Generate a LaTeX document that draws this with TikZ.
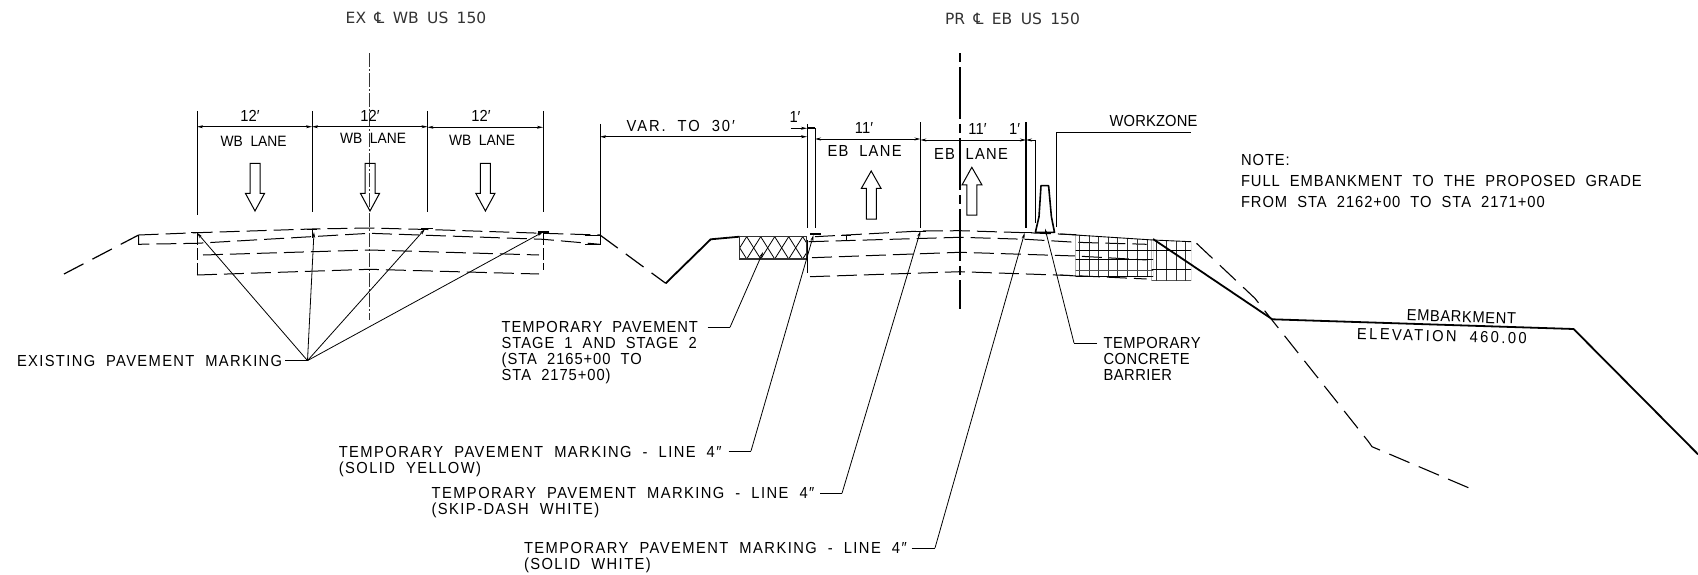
\documentclass[tikz,border=0pt]{standalone}
\usepackage{fontspec}
\usetikzlibrary{arrows.meta}
\setmainfont{Liberation Sans}[FakeStretch=0.92,WordSpace=2.0]
\newfontfamily\hdfont{DejaVu Sans}[WordSpace=1.7]
\tikzset{
  x=1pt,y=-1pt,
  thin line/.style={line width=0.8pt,black},
  heavy/.style={line width=1.8pt,black},
  dimline/.style={line width=0.8pt,black,{Stealth[length=6pt,width=3pt]}-{Stealth[length=6pt,width=3pt]}},
  leader/.style={line width=0.8pt,black,-{Stealth[length=6pt,width=3pt]}},
  prof/.style={line width=1pt,black,dash pattern=on 20pt off 7pt},
  bigdash/.style={line width=1.2pt,black,dash pattern=on 22pt off 10pt},
  lbl/.style={inner sep=0pt,outer sep=0pt,align=left,anchor=north west,font=\fontsize{16}{16}\selectfont\addfontfeatures{LetterSpace=#1}},
  lbl/.default=9,
  lblc/.style={inner sep=0pt,outer sep=0pt,anchor=center,font=\fontsize{16}{16}\selectfont\addfontfeatures{LetterSpace=#1}},
  lblc/.default=2.5,
  hdr/.style={inner sep=0pt,outer sep=0pt,anchor=center,text=black!80,font=\hdfont\fontsize{15.5}{16}\selectfont},
  lane/.style={inner sep=0pt,outer sep=0pt,anchor=center,font=\fontsize{15}{15}\selectfont},
  dimnum/.style={inner sep=0pt,outer sep=0pt,anchor=center,font=\fontsize{16}{16}\selectfont},
  flowarrow/.style={line width=1pt,black,line join=miter}
}
\begin{document}
\begin{tikzpicture}
\useasboundingbox (0,0) rectangle (1698,575);

% === centre lines
\draw[line width=0.6pt,black!80,dash pattern=on 14pt off 2pt on 2pt off 2pt] (369.6,53.3) -- (369.6,319.5);
\draw[line width=1.8pt,black,dash pattern=on 9pt off 5pt on 52pt off 5pt] (960,53.3) -- (960,308.6);
\node[hdr] (exlabel) at (416,18.3) {EX ℄ WB US 150};
\node[hdr] (prlabel) at (1012.5,19.3) {PR ℄ EB US 150};

% === WB extension lines
\draw[thin line] (197,111) -- (197,215);
\draw[thin line] (312,111) -- (312,211.7);
\draw[thin line] (427.5,111) -- (427.5,211.7);
\draw[thin line] (543,111) -- (543,211.7);
\draw[dimline] (197,126.7) -- (312,126.7);
\draw[dimline] (312,126.7) -- (427.5,126.7);
\draw[dimline] (427.5,127.3) -- (543,127.3);
\node[dimnum] (d1) at (250,115.7) {12′};
\node[dimnum] (d2) at (370,115.7) {12′};
\node[dimnum] (d3) at (481,116.3) {12′};
\node[lane] (w1) at (253.6,141.3) {WB LANE};
\node[lane] (w2) at (373,138) {WB LANE};
\node[lane] (w3) at (482,140.3) {WB LANE};

% WB flow arrows
\foreach \c in {255,370,485.4}{
  \draw[flowarrow] (\c-5,163.3) -- (\c+5,163.3) -- (\c+5,193.3) -- (\c+9.6,193.3) -- (\c,211) -- (\c-9.6,193.3) -- (\c-5,193.3) -- cycle;
}

% === WB pavement
\draw[bigdash] (64,274) -- (138.6,235);
\draw[prof] (138.6,235) -- (197,232.7) -- (312,229) -- (369.6,228) -- (427.5,229.5) -- (543,233.3) -- (600,235);
\draw[prof] (138.6,235) -- (138.6,244.3) -- (197,243.3) -- (369.6,233.3) -- (543,239.3) -- (600,244.3);
\draw[prof] (203,255) -- (369.6,250) -- (539,255);
\draw[prof] (197,275) -- (369.6,269.3) -- (539,274);
\draw[line width=0.8pt,black,dash pattern=on 12pt off 3pt] (197,233) -- (197,275);
\draw[line width=0.8pt,black,dash pattern=on 12pt off 3pt] (543,233) -- (543,270);
\draw[line width=1pt] (191,232.7) -- (202,232.7);
\draw[line width=1pt] (307,229) -- (317,229) (312,229) -- (312,238);
\draw[line width=1pt] (421,228.7) -- (433,228.7);
\draw[line width=2pt] (537.5,231.7) -- (549,231.7);

% === Existing marking
\node[lbl=8.5,anchor=west] (exist) at (17,360.6) {EXISTING PAVEMENT MARKING};
\coordinate (apex) at (307.5,360.6);
\draw[thin line] (exist.east) ++(3,0) -- (apex);
\draw[leader] (apex) -- (197,232.7);
\draw[leader] (apex) -- (314,232);
\draw[leader] (apex) -- (425,229);
\draw[leader] (apex) -- (543,232);

% === VAR & EB dims
\draw[thin line] (600,124) -- (600,244.3) -- (585,244.3);
\draw[thin line] (600,235) -- (585,235);
\draw[thin line] (807,124) -- (807,227.7);
\draw[thin line] (815,128.3) -- (815,227.7);
\draw[heavy] (807,128.3) -- (815,128.3);
\draw[line width=0.8pt,-{Stealth[length=6pt,width=3pt]}] (790.7,128.3) -- (807,128.3);
\draw[dimline] (600,136.7) -- (807,136.7);
\draw[dimline] (815,139) -- (920.4,139);
\draw[dimline] (920.4,140) -- (1026,140);
\draw[line width=0.8pt,-{Stealth[length=6pt,width=3pt]}] (1035.7,140) -- (1026,140);
\draw[thin line] (920.4,122.3) -- (920.4,228.3);
\draw[line width=1.2pt] (1026,122.3) -- (1026,227.7);
\draw[thin line] (1035.7,140) -- (1035.7,223.3);
\node[lblc=12] (var) at (680.7,125.7) {VAR. TO 30′};
\node[dimnum] (d4) at (795,117.3) {1′};
\node[dimnum] (d5) at (864,128.3) {11′};
\node[dimnum] (d6) at (977.5,129) {11′};
\node[dimnum] (d7) at (1014.6,129) {1′};
\node[lblc=8] (e1) at (864.6,151.3) {EB LANE};
\node[lblc=8] (e2) at (971,153.7) {EB LANE};

% EB flow arrows
\draw[flowarrow] (866.4,219) -- (876.4,219) -- (876.4,188.3) -- (881,188.3) -- (871.2,171) -- (861.4,188.3) -- (866.4,188.3) -- cycle;
\draw[flowarrow] (966.8,215) -- (976.8,215) -- (976.8,185) -- (982,185) -- (971.8,167.3) -- (962,185) -- (966.8,185) -- cycle;

% === Ditch and shoulder
\draw[bigdash] (600,235) -- (665.7,283.3);
\draw[heavy,line join=round] (665.7,283.3) -- (710.7,239.3) -- (739.6,236.7);

% Cross-hatched temporary pavement
\begin{scope}
  \clip (739.3,236.7) rectangle (806.7,259);
  \foreach \k in {-1,...,5}{
    \draw[line width=0.8pt] (746.7+14*\k,236.7) -- (760.7+14*\k,259);
    \draw[line width=0.8pt] (746.7+14*\k,236.7) -- (732.7+14*\k,259);
  }
\end{scope}
\draw[line width=1.1pt,black!80] (739.3,236.7) rectangle (806.7,259);

% === EB pavement profiles
\draw[prof] (815,236.7) -- (920.4,231) -- (960,230.7) -- (1026,232.7) -- (1076.4,234.7);
\draw[prof] (808.6,241.7) -- (960,237.3) -- (1026,239.3) -- (1076,242.3) -- (1146.7,244.3);
\draw[prof] (812,257.7) -- (960,252.3) -- (1076,256) -- (1146.7,260);
\draw[prof] (810,276.7) -- (960,271.7) -- (1076,275.7) -- (1146.7,279);
\draw[line width=0.8pt,black] (807,240) -- (807,273);
\draw[line width=2pt] (810,234.3) -- (821,234.3);
\draw[line width=0.8pt] (841,235) -- (851,235) (846,235) -- (846,240);
\draw[line width=0.8pt] (915,231) -- (926,231);
\draw[line width=0.8pt] (1018,232.7) -- (1032,232.7);

% === Embankment grids
\begin{scope}
  \clip (1075.7,234.5) -- (1153,240) -- (1153,276.8) -- (1075.7,276.8) -- cycle;
  \foreach \v in {1075.7,1079,1089,1098.3,1108.3,1117.3,1127.3,1137.3,1147.3,1153}
    \draw[line width=0.9pt,black!80] (\v,230) -- (\v,285);
  \draw[line width=0.8pt] (1070,250) -- (1160,250);
  \draw[line width=1.1pt] (1070,259.3) -- (1160,259.3);
  \draw[line width=0.8pt,black!70] (1070,270) -- (1160,270);
  \draw[line width=1pt] (1070,276.3) -- (1160,276.3);
\end{scope}
\begin{scope}
  \clip (1151.7,240) -- (1191,241.7) -- (1191,280.5) -- (1151.7,280.5) -- cycle;
  \foreach \v in {1151.7,1156.7,1166,1176,1185.7,1191}
    \draw[line width=0.9pt,black!80] (\v,235) -- (\v,285);
  \draw[line width=1pt] (1150,250) -- (1195,250);
  \draw[line width=1.2pt] (1150,269.3) -- (1195,269.3);
  \draw[line width=1pt] (1150,280) -- (1195,280);
\end{scope}
\draw[line width=0.9pt] (1060,234) -- (1153,240) -- (1191,241.7);
\draw[line width=0.9pt] (1060,275) -- (1085,276.5);

% === Barrier and workzone
\draw[line width=1.6pt,line join=round] (1041,185.7) -- (1048.6,185.7) -- (1051.4,216.7) -- (1054.5,232.3) -- (1035.4,232.3) -- (1039,216.7) -- cycle;
\draw[thin line] (1056,227) -- (1056,132.7) -- (1191,132.7);
\node[lblc=1] (wz) at (1153.5,121) {WORKZONE};

% === Right side ground
\draw[heavy,line join=round] (1153,239) -- (1272.3,319.3) -- (1573.6,329) -- (1698,454.3);
\draw[bigdash,line width=1.1pt] (1196.5,243.3) -- (1254.9,298.3) -- (1272,320) -- (1368.5,441.7) -- (1372,446.7) -- (1469.8,488.3);
\node[lblc=3.8,rotate=-2] (emb) at (1461.4,316.7) {EMBARKMENT};
\node[lblc=15,rotate=-1.5] (elev) at (1441.9,336) {ELEVATION 460.00};

% === Note
\node[lbl=6,font=\fontsize{16}{21}\selectfont\addfontfeatures{LetterSpace=6}] (note) at (1241,154.5) {NOTE:\\FULL EMBANKMENT TO THE PROPOSED GRADE\\FROM STA 2162+00 TO STA 2171+00};

% === Callouts
\node[lbl=6] (tpav) at (501.7,321.3) {TEMPORARY PAVEMENT\\STAGE 1 AND STAGE 2\\(STA 2165+00 TO\\STA 2175+00)};
\coordinate (tpa) at (730,327.3);
\draw[thin line] (707.5,327.3) -- (tpa);
\draw[leader] (tpa) -- (763,252);

\node[lbl] (ty) at (338.8,446) {TEMPORARY PAVEMENT MARKING - LINE 4″\\(SOLID YELLOW)};
\coordinate (tya) at (751,451);
\draw[thin line] (728.5,451) -- (tya);
\draw[leader] (tya) -- (813.5,235);

\node[lbl] (tw) at (431.6,487.3) {TEMPORARY PAVEMENT MARKING - LINE 4″\\(SKIP-DASH WHITE)};
\coordinate (twa) at (842,493.3);
\draw[thin line] (820,493.3) -- (twa);
\draw[leader] (twa) -- (920.4,231);

\node[lbl] (ts) at (524,542.3) {TEMPORARY PAVEMENT MARKING - LINE 4″\\(SOLID WHITE)};
\coordinate (tsa) at (935,548);
\draw[thin line] (911.5,548) -- (tsa);
\draw[leader] (tsa) -- (1024.6,233);

\node[lbl=3.2] (tb) at (1103.5,337) {TEMPORARY\\CONCRETE\\BARRIER};
\coordinate (tba) at (1074,343);
\draw[thin line] (1097,343) -- (tba);
\draw[leader] (tba) -- (1045,228.5);
\end{tikzpicture}
\end{document}
